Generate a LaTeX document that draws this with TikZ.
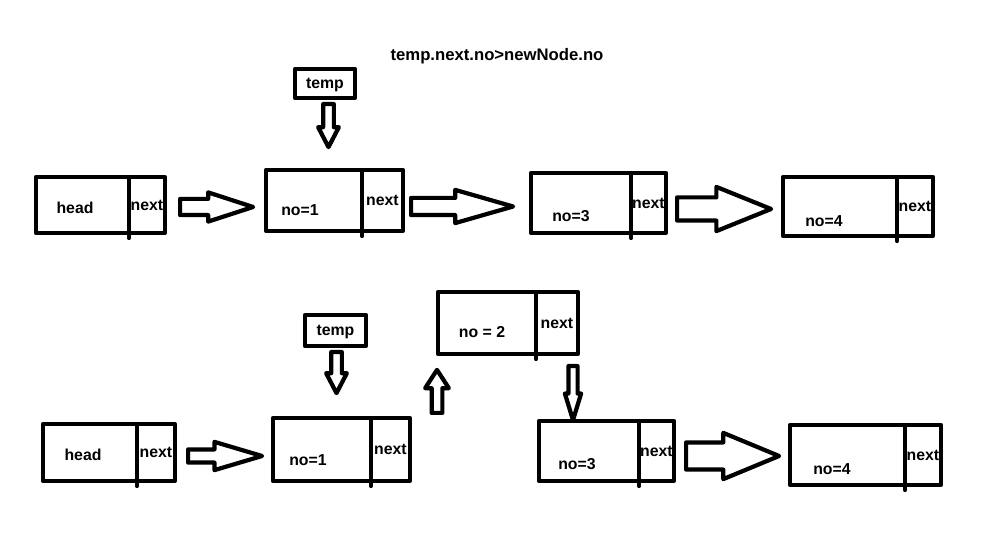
\documentclass[tikz,border=0pt]{standalone}
\usepackage{fontspec}
\setmainfont{Liberation Sans}
\usetikzlibrary{positioning,shapes.arrows}

\begin{document}
\begin{tikzpicture}[x=0.02cm,y=-0.02cm]
\tikzset{
  cell/.style={draw,line width=2.4pt,line join=round,outer sep=0pt,inner sep=0pt},
  ptr/.style={cell,font=\bfseries\fontsize{9}{10}\selectfont},
  lbl/.style={font=\bfseries\fontsize{9}{10}\selectfont,inner sep=0pt},
  barrow/.style={draw,line width=2.4pt,line join=round,single arrow,minimum width=0pt,inner xsep=0pt,anchor=tail},
  tick/.style={line width=2.4pt,line cap=round}
}
\useasboundingbox (0,0) rectangle (991,550);

% condition
\node[lbl,font=\bfseries\fontsize{9.5}{11}\selectfont] (cond) at (497,56) {temp.next.no>newNode.no};

% list before the insert
\node[cell,minimum width=1.86cm,minimum height=1.12cm,label={[lbl,shift={(-7.5,3)}]center:head}] (h1d) at (82.5,205) {};
\node[ptr,minimum width=0.72cm,minimum height=1.12cm,right=0pt of h1d] (h1n) {next};
\node[cell,minimum width=1.92cm,minimum height=1.22cm,label={[lbl,shift={(-14,9.5)}]center:no=1}] (n1d) at (314,200.5) {};
\node[ptr,minimum width=0.82cm,minimum height=1.22cm,right=0pt of n1d] (n1n) {next};
\node[cell,minimum width=2cm,minimum height=1.2cm,label={[lbl,shift={(-10,13)}]center:no=3}] (n3d) at (581,203) {};
\node[ptr,minimum width=0.7cm,minimum height=1.2cm,right=0pt of n3d] (n3n) {next};
\node[cell,minimum width=2.28cm,minimum height=1.18cm,label={[lbl,shift={(-16,14.5)}]center:no=4}] (n4d) at (840,206.5) {};
\node[ptr,minimum width=0.72cm,minimum height=1.18cm,right=0pt of n4d] (n4n) {next};

\node[ptr,text depth=0pt,minimum width=1.2cm,minimum height=0.58cm] (tmp1) at (325,83.5) {temp};
\node[barrow,rotate=-90,minimum height=0.86cm,inner ysep=0.065cm,single arrow head extend=0.1cm,single arrow tip angle=55] (ta1) at (328.5,102) {};

\node[barrow,minimum height=1.46cm,inner ysep=0.12cm,single arrow head extend=0.13cm,single arrow tip angle=36] (a1) at (178,207) {};
\node[barrow,minimum height=2.04cm,inner ysep=0.13cm,single arrow head extend=0.16cm,single arrow tip angle=32] (a2) at (409,206.5) {};
\node[barrow,minimum height=1.88cm,inner ysep=0.19cm,single arrow head extend=0.21cm,single arrow tip angle=44] (a3) at (675,209) {};

% list after the insert
\node[cell,minimum width=1.88cm,minimum height=1.14cm,label={[lbl,shift={(-7,2.5)}]center:head}] (h2d) at (90,452.5) {};
\node[ptr,minimum width=0.76cm,minimum height=1.14cm,right=0pt of h2d] (h2n) {next};
\node[cell,minimum width=1.96cm,minimum height=1.26cm,label={[lbl,shift={(-14,10.5)}]center:no=1}] (m1d) at (322,449.5) {};
\node[ptr,minimum width=0.78cm,minimum height=1.26cm,right=0pt of m1d] (m1n) {next};
\node[cell,minimum width=1.96cm,minimum height=1.24cm,label={[lbl,shift={(-5,9)}]center:no = 2}] (m2d) at (487,323) {};
\node[ptr,minimum width=0.84cm,minimum height=1.24cm,right=0pt of m2d] (m2n) {next};
\node[cell,minimum width=2cm,minimum height=1.2cm,label={[lbl,shift={(-12,13)}]center:no=3}] (m3d) at (589,451) {};
\node[ptr,minimum width=0.7cm,minimum height=1.2cm,right=0pt of m3d] (m3n) {next};
\node[cell,minimum width=2.3cm,minimum height=1.2cm,label={[lbl,shift={(-15.5,14)}]center:no=4}] (m4d) at (847.5,455) {};
\node[ptr,minimum width=0.72cm,minimum height=1.2cm,right=0pt of m4d] (m4n) {next};

\node[ptr,text depth=0pt,minimum width=1.22cm,minimum height=0.62cm] (tmp2) at (335.5,330.5) {temp};
\node[barrow,rotate=-90,minimum height=0.82cm,inner ysep=0.065cm,single arrow head extend=0.1cm,single arrow tip angle=55] (ta2) at (336.5,350) {};
\node[barrow,rotate=90,minimum height=0.86cm,inner ysep=0.065cm,single arrow head extend=0.13cm,single arrow tip angle=66] (ua) at (437,415) {};
\node[barrow,rotate=-90,minimum height=1.08cm,inner ysep=0.05cm,single arrow head extend=0.07cm,single arrow tip angle=34] (da) at (573,364) {};

\node[barrow,minimum height=1.48cm,inner ysep=0.09cm,single arrow head extend=0.15cm,single arrow tip angle=33] (b1) at (186,456) {};
\node[barrow,minimum height=1.86cm,inner ysep=0.23cm,single arrow head extend=0.19cm,single arrow tip angle=45] (b3) at (684,456) {};

\foreach \c in {h1d,n1d,n3d,n4d,h2d,m1d,m2d,m3d,m4d}
  \draw[tick] (\c.south east) -- ++(0,5);
\end{tikzpicture}
\end{document}
